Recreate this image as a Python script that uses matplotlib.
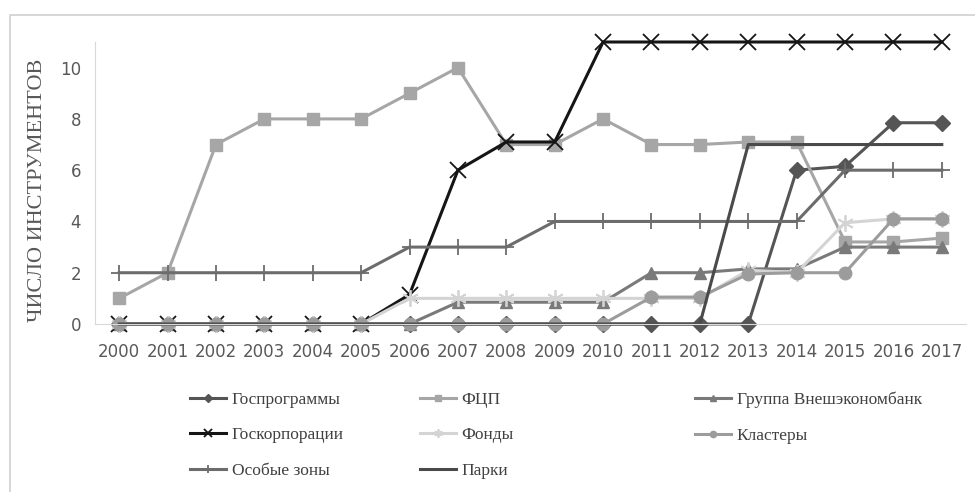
import matplotlib.pyplot as plt
from matplotlib.patches import Rectangle

years = [str(y) for y in range(2000, 2018)]

gosprog = [0, 0, 0, 0, 0, 0, 0, 0, 0, 0, 0, 0, 0, 0, 6, 6.15, 7.85, 7.85]
fcp = [1, 2, 7, 8, 8, 8, 9, 10, 7, 7, 8, 7, 7, 7.1, 7.1, 3.2, 3.2, 3.35]
veb = [0, 0, 0, 0, 0, 0, 0, 0.85, 0.85, 0.85, 0.85, 2, 2, 2.15, 2.15, 3, 3, 3]
goskorp = [0, 0, 0, 0, 0, 0, 1.15, 6, 7.1, 7.1, 11, 11, 11, 11, 11, 11, 11, 11]
fondy = [0, 0, 0, 0, 0, 0, 1, 1, 1, 1, 1, 1, 1, 2.1, 2, 3.95, 4.1, 4.1]
klastery = [0, 0, 0, 0, 0, 0, 0, 0, 0, 0, 0, 1.05, 1.05, 1.95, 2, 2, 4.1, 4.1]
zones = [2, 2, 2, 2, 2, 2, 3, 3, 3, 4, 4, 4, 4, 4, 4, 6, 6, 6]
parki = [0, 0, 0, 0, 0, 0, 0, 0, 0, 0, 0, 0, 0, 7, 7, 7, 7, 7]

fig = plt.figure(figsize=(9.75, 4.92), dpi=100)
W, H = 975, 492
ax = fig.add_axes([95 / W, 1 - 324 / H, (966 - 95) / W, (324 - 42) / H])

# рамка вокруг диаграммы
fig.patches.append(Rectangle((10 / W, -0.1), 1.2, 1 - 15 / H + 0.1, transform=fig.transFigure,
                             fill=False, edgecolor="#d0d0d0", lw=1.2))

x = list(range(len(years)))
lw = 2.2
series = [
    ("Госпрограммы", gosprog, "#555555", "D", 8),
    ("ФЦП", fcp, "#a6a6a6", "s", 9),
    ("Группа Внешэкономбанк", veb, "#7a7a7a", "^", 9),
    ("Госкорпорации", goskorp, "#151515", "x", 11),
    ("Фонды", fondy, "#d4d4d4", (6, 2, 0), 12),
    ("Кластеры", klastery, "#9c9c9c", "o", 9),
    ("Особые зоны", zones, "#6c6c6c", "+", 12),
    ("Парки", parki, "#4a4a4a", None, 0),
]
lines = {}
for name, vals, col, mk, ms in series:
    ln, = ax.plot(x, vals, color=col, lw=lw, marker=mk, markersize=ms,
                  markeredgewidth=1.3 if mk in ("x", "+", (6, 2, 0)) else 1,
                  markeredgecolor=col, clip_on=False, label=name)
    lines[name] = ln

ax.set_xlim(-0.5, 17.5)
ax.set_ylim(0, 11)
ax.set_yticks([0, 2, 4, 6, 8, 10])
ax.set_xticks(x)
ax.set_xticklabels(years)
for s in ("top", "right"):
    ax.spines[s].set_visible(False)
ax.spines["left"].set_color("#d9d9d9")
ax.spines["bottom"].set_color("#d9d9d9")
ax.tick_params(length=0, colors="#595959")
ax.tick_params(axis="x", labelsize=12, pad=14)
ax.tick_params(axis="y", labelsize=12, pad=10)
ax.set_ylabel("ЧИСЛО ИНСТРУМЕНТОВ", family="Liberation Serif", fontsize=16,
              color="#595959", labelpad=9)
ax.yaxis.label.set_y(0.475)

cols = [
    (["Госпрограммы", "Госкорпорации", "Особые зоны"], 190),
    (["ФЦП", "Фонды", "Парки"], 420),
    (["Группа Внешэкономбанк", "Кластеры"], 695),
]
for names, px in cols:
    fig.legend([lines[n] for n in names], names, loc="upper left",
               bbox_to_anchor=(px / W, 1 - 392 / H), frameon=False,
               borderpad=0, borderaxespad=0, handlelength=2.1, handletextpad=0.3,
               labelspacing=1.1, markerscale=0.5,
               prop={"family": "Liberation Serif", "size": 12.5},
               labelcolor="#404040")

fig.savefig("out.png", dpi=100)
